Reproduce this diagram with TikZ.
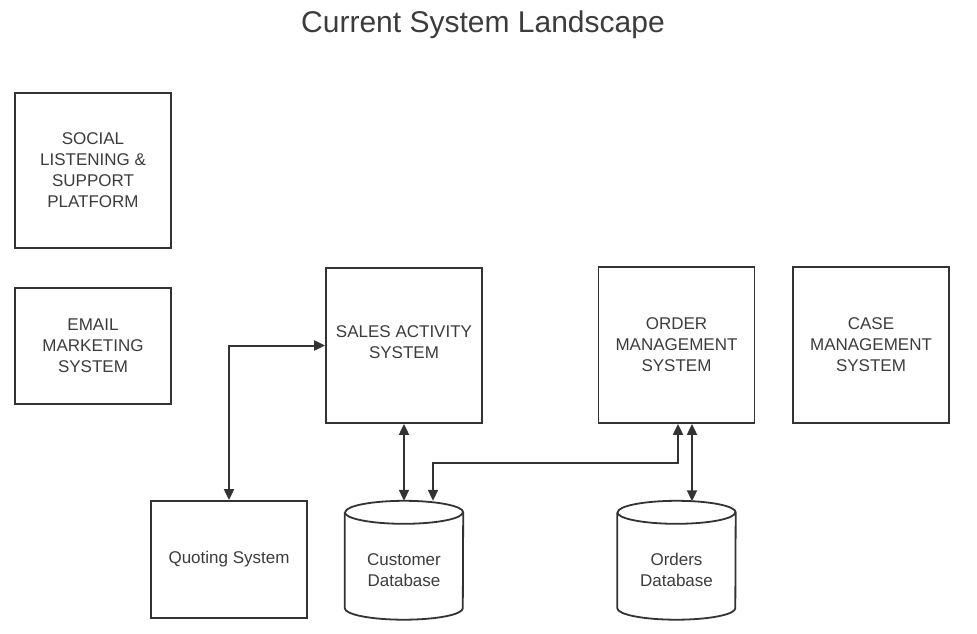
\documentclass[tikz,border=0pt]{standalone}
\usepackage{fontspec}
\setmainfont{Liberation Sans}
\usetikzlibrary{arrows.meta,backgrounds}
\definecolor{ln}{HTML}{333333}
\definecolor{tx}{HTML}{3C3C3C}
\begin{document}
\begin{tikzpicture}[x=1pt,y=-1pt,
  sysbox/.style={draw=ln, line width=1.8pt, inner sep=0pt, minimum width=156pt, text=tx, align=center, font=\fontsize{17}{21}\selectfont},
  dbnode/.style={inner sep=0pt, minimum width=118pt, minimum height=119pt, text=tx, align=center, font=\fontsize{17}{21}\selectfont},
  link/.style={draw=ln, line width=2pt, {Triangle[length=11pt,width=10pt]}-{Triangle[length=11pt,width=10pt]}}]
\useasboundingbox (0,0) rectangle (977,634);
\node[text=tx, font=\fontsize{30}{35}\selectfont] (title) at (483,25) {Current System Landscape};
\node[sysbox, minimum height=155pt] (social) at (93,170.5) {SOCIAL\\LISTENING \&\\SUPPORT\\PLATFORM};
\node[sysbox, minimum height=116pt] (email) at (93,346) {EMAIL\\MARKETING\\SYSTEM};
\node[sysbox, minimum height=155pt] (sales) at (404,345.5) {SALES ACTIVITY\\SYSTEM\\[-14pt]};
\node[sysbox, minimum height=156pt] (oms) at (676.5,345) {ORDER\\MANAGEMENT\\SYSTEM};
\node[sysbox, minimum height=156pt] (cms) at (871,345) {CASE\\MANAGEMENT\\SYSTEM};
\node[sysbox, minimum height=117pt] (quote) at (229,559.5) {Quoting System};
% databases
\node[dbnode] (cdb) at (404,560.5) {\\[10pt]Customer\\Database};
\node[dbnode] (odb) at (676.5,560.5) {\\[10pt]Orders\\Database};
\begin{scope}[on background layer]
\foreach \d in {cdb,odb}{
  \draw[ln, line width=1.8pt, fill=white] ([yshift=-11.5]\d.north west) -- ([yshift=12]\d.south west)
    arc[start angle=180, end angle=360, x radius=59pt, y radius=11.5pt]
    -- ([yshift=-11.5]\d.north east)
    arc[start angle=0, end angle=180, x radius=59pt, y radius=11.5pt];
  \draw[ln, line width=1.8pt] ([yshift=-11.5]\d.north west)
    arc[start angle=180, end angle=360, x radius=59pt, y radius=11.5pt];
}
\end{scope}
% connectors
\draw[link] (quote.north) |- (sales.west);
\draw[link] (sales.south) -- (cdb.north);
\coordinate (cdbr) at ([xshift=29]cdb.north);
\coordinate (omsl) at ([xshift=1.5]oms.south);
\coordinate (omsr) at ([xshift=15.5]oms.south);
\coordinate (bend) at ([yshift=38]cdbr);
\draw[link] (cdbr) -- (bend) -| (omsl);
\coordinate (odbtop) at ([xshift=15.5,yshift=-0.5]odb.north);
\draw[link] (omsr) -- (odbtop);
\end{tikzpicture}
\end{document}
